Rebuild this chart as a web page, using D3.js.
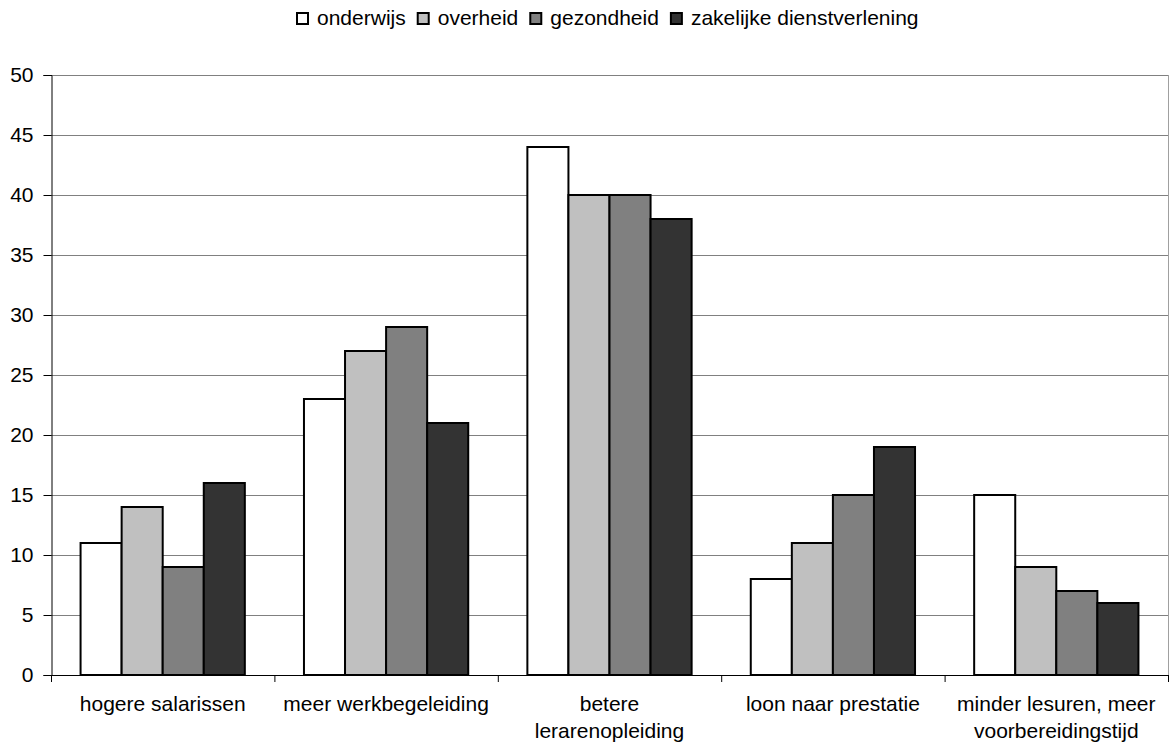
<!DOCTYPE html>
<html>
<head>
  <script src="https://d3js.org/d3.v7.min.js"></script>
  <style>
    body { margin: 0; background: #fff; }
    text { font-family: "Liberation Sans", Arial, sans-serif; font-size: 21px; fill: #000; }
  </style>
</head>
<body>
  <script>
    // data
    var categories = [
      ["hogere salarissen"],
      ["meer werkbegeleiding"],
      ["betere", "lerarenopleiding"],
      ["loon naar prestatie"],
      ["minder lesuren, meer", "voorbereidingstijd"]
    ];
    var series = ["onderwijs", "overheid", "gezondheid", "zakelijke dienstverlening"];
    var onderwijs = [11, 23, 44, 8, 15];
    var overheid = [14, 27, 40, 11, 9];
    var gezondheid = [9, 29, 40, 15, 7];
    var zakelijk = [16, 21, 38, 19, 6];
    var yTicks = [0, 5, 10, 15, 20, 25, 30, 35, 40, 45, 50];

    var values = [onderwijs, overheid, gezondheid, zakelijk];
    var colors = ["#ffffff", "#c0c0c0", "#808080", "#333333"];

    var width = 1175, height = 749;
    var plotLeft = 51, plotRight = 1168, plotTop = 75, plotBottom = 675;

    var svg = d3.select("body").append("svg")
      .attr("width", width)
      .attr("height", height);

    var x = d3.scaleBand()
      .domain(d3.range(categories.length))
      .range([plotLeft, plotRight])
      .paddingInner(0)
      .paddingOuter(0);

    // bars touch each other, ~30px margin on each side of a group
    var inner = d3.scaleBand()
      .domain(d3.range(series.length))
      .range([0, x.bandwidth()])
      .paddingOuter(0.72)
      .paddingInner(0);

    var y = d3.scaleLinear().domain([0, 50]).range([plotBottom, plotTop]);

    // gridlines
    svg.append("g").selectAll("line")
      .data(yTicks.slice(1))
      .enter().append("line")
      .attr("x1", plotLeft).attr("x2", plotRight)
      .attr("y1", function (d) { return y(d) + 0.5; })
      .attr("y2", function (d) { return y(d) + 0.5; })
      .attr("stroke", "#808080")
      .attr("stroke-width", 1);

    // right border
    svg.append("line")
      .attr("x1", plotRight + 0.5).attr("x2", plotRight + 0.5)
      .attr("y1", plotTop).attr("y2", plotBottom)
      .attr("stroke", "#a0a0a0");

    // y axis
    var yAxis = d3.axisLeft(y).tickValues(yTicks).tickSize(8).tickPadding(10);
    var gy = svg.append("g")
      .attr("transform", "translate(" + (plotLeft + 0.5) + ",0)")
      .call(yAxis);
    gy.select(".domain").attr("stroke", "#000");
    gy.selectAll(".tick line").attr("stroke", "#000");
    gy.selectAll("text")
      .attr("fill", "#000")
      .style("font-size", "21px")
      .style("font-family", "Liberation Sans, Arial, sans-serif");

    // bars
    var groups = svg.append("g").selectAll("g")
      .data(values)
      .enter().append("g")
      .attr("fill", function (d, i) { return colors[i]; });

    groups.each(function (vals, si) {
      d3.select(this).selectAll("rect")
        .data(vals)
        .enter().append("rect")
        .attr("x", function (d, ci) { return x(ci) + inner(si); })
        .attr("width", inner.bandwidth())
        .attr("y", function (d) { return y(d); })
        .attr("height", function (d) { return plotBottom - y(d); })
        .attr("stroke", "#000")
        .attr("stroke-width", 2);
    });

    // x axis
    svg.append("line")
      .attr("x1", plotLeft).attr("x2", plotRight + 1)
      .attr("y1", plotBottom + 0.5).attr("y2", plotBottom + 0.5)
      .attr("stroke", "#000");
    svg.append("g").selectAll("line")
      .data(d3.range(categories.length + 1))
      .enter().append("line")
      .attr("x1", function (d) { return plotLeft + d * x.step() + 0.5; })
      .attr("x2", function (d) { return plotLeft + d * x.step() + 0.5; })
      .attr("y1", plotBottom).attr("y2", plotBottom + 7)
      .attr("stroke", "#000");

    // category labels
    svg.append("g").selectAll("text")
      .data(categories)
      .enter().append("text")
      .attr("text-anchor", "middle")
      .attr("x", function (d, i) { return x(i) + x.bandwidth() / 2; })
      .attr("y", 711)
      .each(function (lines) {
        var t = d3.select(this);
        lines.forEach(function (l, k) {
          t.append("tspan")
            .attr("x", t.attr("x"))
            .attr("dy", k === 0 ? 0 : 27)
            .text(l);
        });
      });

    // legend
    var legend = svg.append("g");
    var lx = 297;
    series.forEach(function (name, i) {
      legend.append("rect")
        .attr("x", lx).attr("y", 13)
        .attr("width", 11).attr("height", 11)
        .attr("fill", colors[i])
        .attr("stroke", "#000").attr("stroke-width", 2);
      var t = legend.append("text")
        .attr("x", lx + 20).attr("y", 25)
        .text(name);
      lx += 20 + t.node().getComputedTextLength() + 12;
    });
  </script>
</body>
</html>
